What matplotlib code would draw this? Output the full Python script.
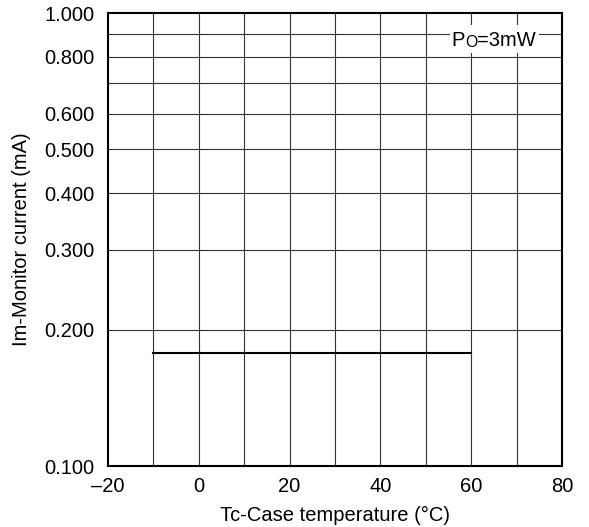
import matplotlib
matplotlib.use('Agg')
import matplotlib.pyplot as plt
from matplotlib.patches import Rectangle

# monitor current vs case temperature at Po=3mW
temp = [-10, 60]
im_current = [0.178, 0.178]

xticks = [-20, 0, 20, 40, 60, 80]
xtick_labels = ['\u201320', '0', '20', '40', '60', '80']
yticks = [0.1, 0.2, 0.3, 0.4, 0.5, 0.6, 0.8, 1.0]
ytick_labels = ['0.100', '0.200', '0.300', '0.400', '0.500', '0.600', '0.800', '1.000']
xgrid = [-10, 0, 10, 20, 30, 40, 50, 60, 70]
ygrid = [0.2, 0.3, 0.4, 0.5, 0.6, 0.7, 0.8, 0.9]

plt.rcParams['font.family'] = ['Liberation Sans', 'DejaVu Sans']
fs = 14.5

fig = plt.figure(figsize=(5.89, 5.27), dpi=100)
ax = fig.add_axes([0.1834, 0.1157, 0.7708, 0.8596])

ax.set_yscale('log')
ax.set_xlim(-20, 80)
ax.set_ylim(0.1, 1.0)

for x in xgrid:
    ax.axvline(x, color='#333333', lw=0.8, zorder=1)
for y in ygrid:
    ax.axhline(y, color='#333333', lw=0.8, zorder=1)

ax.plot(temp, im_current, color='black', lw=1.5, zorder=3)

ax.set_xticks(xticks)
ax.set_xticklabels(xtick_labels)
ax.set_yticks(yticks)
ax.set_yticklabels(ytick_labels)
ax.yaxis.set_minor_locator(matplotlib.ticker.NullLocator())
ax.tick_params(length=0, labelsize=fs)
ax.tick_params(axis='x', pad=8)
ax.tick_params(axis='y', pad=10)

for s in ax.spines.values():
    s.set_linewidth(1.5)

ax.set_xlabel('Tc-Case temperature (\u00b0C)', fontsize=fs, labelpad=7)
ax.set_ylabel('Im-Monitor current (mA)', fontsize=fs, labelpad=9)

# Po=3mW label, small O, white patch behind it
ax.add_patch(Rectangle((0.753, 0.912), 0.196, 0.062, transform=ax.transAxes,
                       facecolor='white', edgecolor='none', zorder=2))
t1 = ax.text(0.757, 0.927, 'P', transform=ax.transAxes, fontsize=fs,
             va='baseline', ha='left', zorder=4)
t2 = ax.annotate('O', xy=(1, 0), xycoords=t1, fontsize=fs * 0.78,
                 va='bottom', ha='left', zorder=4)
ax.annotate('=3mW', xy=(1, 0), xycoords=t2, fontsize=fs,
            va='bottom', ha='left', zorder=4)

fig.savefig('out.png', dpi=100)
